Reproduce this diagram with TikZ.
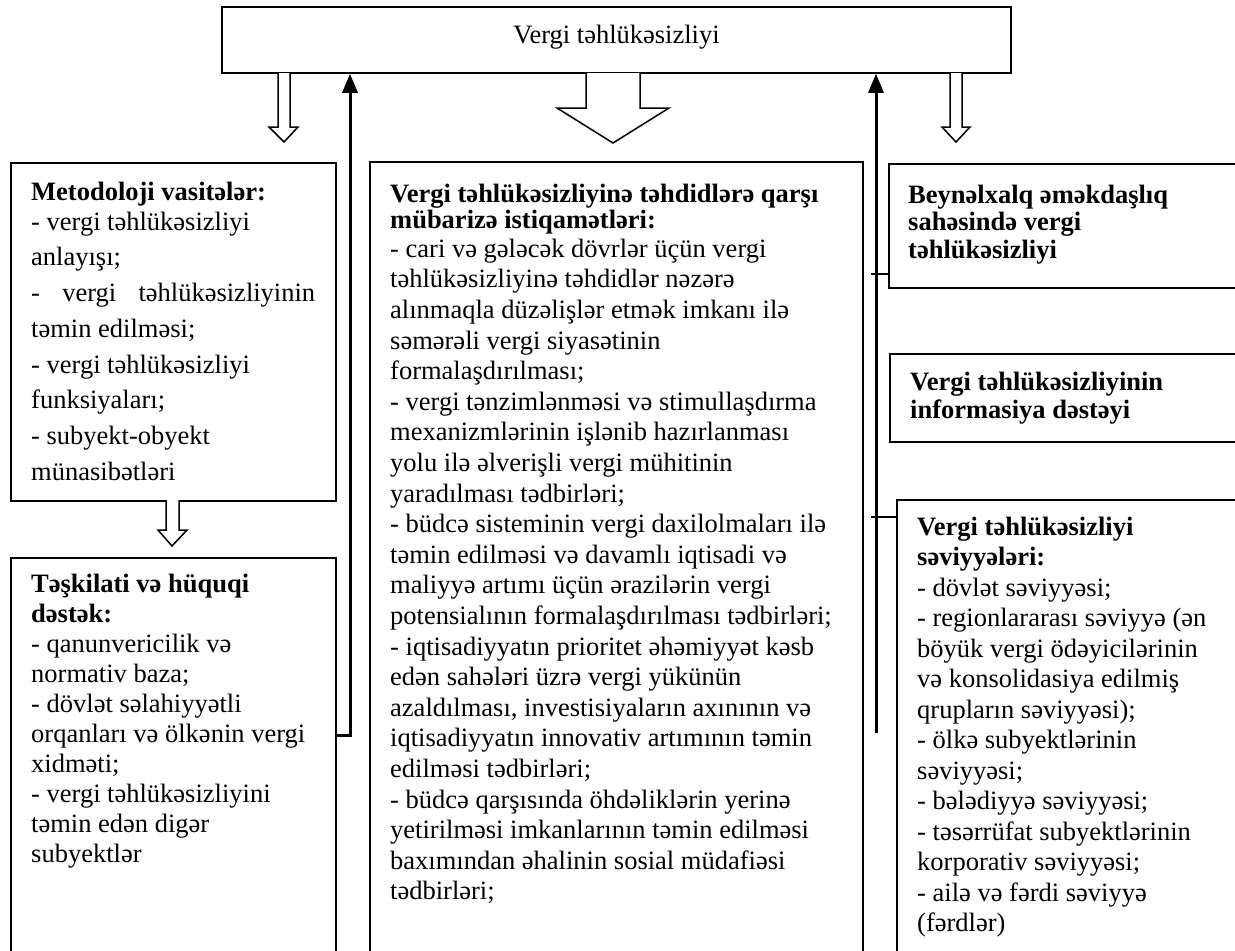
\documentclass[tikz,border=0pt]{standalone}
\usepackage{fontspec}
\setmainfont{Liberation Serif}
\usetikzlibrary{arrows.meta}
\newcommand{\fs}[1]{\fontsize{26.5}{#1}\selectfont}
\newcommand{\st}{\rule{0pt}{22pt}}

\begin{document}
\begin{tikzpicture}[x=1pt, y=-1pt, line join=miter,
  box/.style={draw, line width=1.5pt, anchor=north west, inner sep=0pt},
  txt/.style={anchor=north west, inner sep=0pt, align=left},
  hollow/.style={draw, fill=white, line width=1.5pt},
  conn/.style={line width=3pt, -{Triangle[length=19pt, width=15pt]}},
  tick/.style={line width=2.5pt}]
\clip (0,0) rectangle (1235,951);
\node[box, anchor=center, minimum width=789pt, minimum height=66pt, text height=18pt, text depth=12pt, font=\fs{30}] (top) at (616.5,40) {Vergi təhlükəsizliyi};
\node[box, minimum width=325pt, minimum height=338pt] (metod) at (10,162) {};
\node[box, minimum width=325pt, minimum height=430pt] (teskilat) at (10,557) {};
\node[box, line width=2pt, minimum width=493pt, minimum height=830pt] (istiqamet) at (369,161) {};
\node[box, minimum width=360pt, minimum height=124pt] (beynelxalq) at (888,163) {};
\node[box, minimum width=360pt, minimum height=88pt] (informasiya) at (889,353) {};
\node[box, minimum width=360pt, minimum height=490pt] (seviyye) at (896,499) {};
\draw[hollow] (278,73) -- (278,127) -- (269,127) -- (284,142) -- (298,127) -- (290,127) -- (290,73);
\draw[hollow] (586,73) -- (586,108) -- (557,108) -- (613,143) -- (669,108) -- (640,108) -- (640,73);
\draw[hollow] (950,73) -- (950,127) -- (942,127) -- (956,142) -- (970,127) -- (962,127) -- (962,73);
\draw[hollow] (166,500) -- (166,530) -- (158,530) -- (172,546) -- (187,530) -- (179,530) -- (179,500);
\coordinate (jL) at (350,735);
\coordinate (jR) at (876,733);
\coordinate (t1) at (871,274);
\coordinate (t2) at (871,517);
\draw[conn] (teskilat.east |- jL) -- (jL) -- (jL |- top.south);
\draw[conn] (jR) -- (jR |- top.south);
\draw[tick] (t1) -- (beynelxalq.west |- t1);
\draw[tick] (t2) -- (seviyye.west |- t2);
\node[txt, font=\fs{35.7}] (metodtxt) at (31,178) {\st\textbf{Metodoloji vasitələr:}\\[-5.7pt]
  - vergi təhlükəsizliyi\\ anlayışı;\\ \makebox[284pt][s]{- vergi təhlükəsizliyinin}\\ təmin edilməsi;\\
  - vergi təhlükəsizliyi\\ funksiyaları;\\ - subyekt-obyekt\\ münasibətləri};
\node[txt, font=\fs{30}] (teskilattxt) at (31,570) {\st\textbf{Təşkilati və hüquqi}\\ \textbf{dəstək:}\\
  - qanunvericilik və\\ normativ baza;\\ - dövlət səlahiyyətli\\ orqanları və ölkənin vergi\\ xidməti;\\
  - vergi təhlükəsizliyini\\ təmin edən digər\\ subyektlər};
\node[txt, font=\fs{30.6}] (istiqamettxt) at (390,180) {\st\textbf{Vergi təhlükəsizliyinə təhdidlərə qarşı}\\[-4.6pt]
  \textbf{mübarizə istiqamətləri:}\\[-1.6pt]
  - cari və gələcək dövrlər üçün vergi\\ təhlükəsizliyinə təhdidlər nəzərə\\ alınmaqla düzəlişlər etmək imkanı ilə\\
  səmərəli vergi siyasətinin\\ formalaşdırılması;\\
  - vergi tənzimlənməsi və stimullaşdırma\\ mexanizmlərinin işlənib hazırlanması\\ yolu ilə əlverişli vergi mühitinin\\
  yaradılması tədbirləri;\\
  - büdcə sisteminin vergi daxilolmaları ilə\\ təmin edilməsi və davamlı iqtisadi və\\ maliyyə artımı üçün ərazilərin vergi\\
  potensialının formalaşdırılması tədbirləri;\\
  - iqtisadiyyatın prioritet əhəmiyyət kəsb\\ edən sahələri üzrə vergi yükünün\\ azaldılması, investisiyaların axınının və\\
  iqtisadiyyatın innovativ artımının təmin\\ edilməsi tədbirləri;\\
  - büdcə qarşısında öhdəliklərin yerinə\\ yetirilməsi imkanlarının təmin edilməsi\\ baxımından əhalinin sosial müdafiəsi\\
  tədbirləri;};
\node[txt, font=\fs{27.5}\bfseries] (beynelxalqtxt) at (908,181) {\st Beynəlxalq əməkdaşlıq\\ sahəsində vergi\\ təhlükəsizliyi};
\node[txt, font=\fs{28}\bfseries] (informasiyatxt) at (910,368) {\st Vergi təhlükəsizliyinin\\ informasiya dəstəyi};
\node[txt, font=\fs{30.5}] (seviyyetxt) at (917,513) {\st\textbf{Vergi təhlükəsizliyi}\\ \textbf{səviyyələri:}\\
  - dövlət səviyyəsi;\\ - regionlararası səviyyə (ən\\ böyük vergi ödəyicilərinin\\ və konsolidasiya edilmiş\\
  qrupların səviyyəsi);\\ - ölkə subyektlərinin\\ səviyyəsi;\\ - bələdiyyə səviyyəsi;\\ - təsərrüfat subyektlərinin\\
  korporativ səviyyəsi;\\ - ailə və fərdi səviyyə\\ (fərdlər)};
\end{tikzpicture}
\end{document}
